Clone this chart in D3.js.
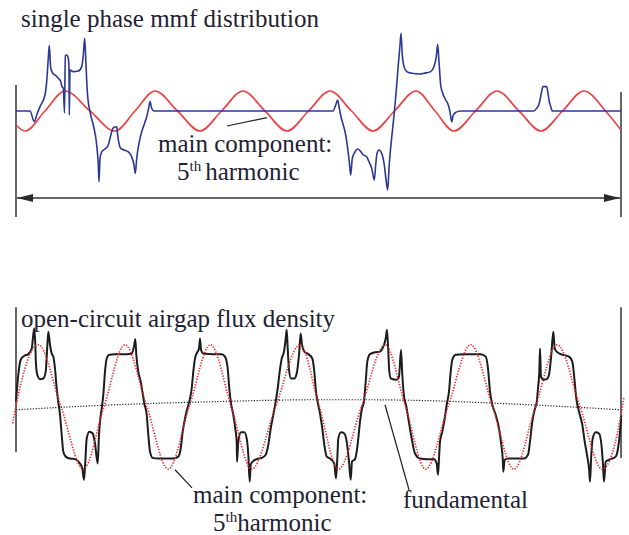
<!DOCTYPE html>
<html>
<head>
<meta charset="utf-8">
<script src="https://cdn.jsdelivr.net/npm/d3@7"></script>
<style>
  html, body { margin: 0; padding: 0; background: #fff; }
  svg { display: block; }
</style>
</head>
<body>
<svg id="chart" width="629" height="535"></svg>
<script>
// Position along the airgap circumference (mm), 0 .. 121
const spanMM = [0, 121];

// ---- Upper plot: single phase mmf (per unit) ----
const mmfX = [0, 2.8, 3.66, 4.14, 4.8, 5.8, 6.14, 6.46, 6.66, 6.94, 7.34, 7.8, 8.46, 8.94, 9.2, 9.46, 9.7, 9.86, 10.14, 10.46, 10.6, 10.66, 10.8, 11.46, 12.46, 13.14, 13.46, 13.74, 14.0, 14.26, 14.8, 15.46, 16.14, 16.46, 16.6, 16.8, 17.14, 17.8, 18.46, 18.8, 19.14, 19.46, 20.14, 20.26, 20.54, 20.94, 21.6, 22.46, 23.14, 23.6, 23.86, 24.14, 24.66, 25.14, 25.6, 26.14, 26.54, 26.8, 27.14, 27.6,
  63.4, 63.94, 64.34, 64.6, 65.0, 65.46, 65.94, 66.34, 66.66, 66.94, 67.26, 67.8, 68.34, 68.86, 69.46, 70.14, 70.6, 71.14, 71.66, 71.94, 72.2, 72.6, 73.14, 73.66, 74.06, 74.34, 74.6, 74.86, 75.26, 75.54, 75.8, 76.14, 76.46, 76.8, 77.0, 77.26, 77.6, 78.14, 79.14, 80.8, 81.6, 82.94, 83.6, 84.06, 84.34, 84.6, 84.94, 85.34, 85.94, 86.46, 86.8, 87.14, 87.46, 87.94, 88.94,
  103.6, 104.14, 104.54, 104.8, 105.06, 105.4, 106.14, 106.4, 106.6, 106.94, 107.26, 121];
const mmfY = [0, 0, -0.54, -0.2, 0.22, 0.8, 1.47, 2.65, 3.27, 2.15, 1.9, 1.8, 1.64, 1.47, 1.22, 1.14, -0.1, 2.77, 2.8, 2.64, 2.14, -0.2, 2.05, 1.97, 2.0, 2.22, 2.8, 3.64, 2.3, 0.97, -0.04, -0.7, -1.7, -2.7, -3.54, -2.37, -2.04, -1.9, -1.7, -1.37, -1.04, -0.84, -0.79, -1.04, -1.54, -1.87, -1.95, -2.04, -2.29, -2.7, -3.12, -2.37, -1.54, -1.04, -0.7, -0.29, 0.14, 0.47, 0.14, 0,
  0, 0.3, 0.55, 0.22, -0.29, -0.7, -1.2, -1.87, -2.54, -3.2, -2.37, -2.04, -1.9, -2.0, -2.2, -2.29, -2.54, -2.87, -3.45, -2.7, -2.12, -1.95, -2.12, -2.7, -3.54, -3.95, -2.87, -2.04, -1.04, -0.37, 0.3, 1.3, 2.3, 3.3, 3.89, 2.8, 2.22, 1.97, 1.89, 1.85, 1.89, 1.97, 2.22, 2.72, 3.34, 2.47, 1.3, 0.89, 0.55, 0.3, -0.04, -0.54, -0.2, -0.07, 0,
  0, 0.14, 0.3, 0.55, 0.89, 1.22, 1.22, 0.89, 0.55, 0.22, 0, 0];

// main component of the mmf (5th harmonic): extremes and zero crossings
const mmf5X = [0, 1.8, 5.8, 9.8, 14.8, 19.8, 23.8, 27.8, 32.3, 36.8, 41.1, 45.4, 49.8, 54.2, 58.5, 62.8, 67.1, 71.4, 75.7, 80.0, 83.8, 87.6, 91.9, 96.2, 100.6, 105.0, 109.3, 113.6, 117.9, 121];
const mmf5Y = [-0.7, -1, 0, 1, 0, -1, 0, 1, 0, -1, 0, 1, 0, -1, 0, 1, 0, -1, 0, 1, 0, -1, 0, 1, 0, -1, 0, 1, 0, -0.95];

// ---- Lower plot: open-circuit airgap flux density (T) ----
const fluxX = [0, 0.46, 0.94, 1.6, 2.46, 3.14, 3.46, 3.66, 3.86, 4.0, 4.26, 4.8, 5.46, 5.94, 6.2, 6.46, 6.8, 7.14, 7.46, 7.8, 8.14, 8.46, 8.8, 9.14, 9.46, 9.94, 10.8, 11.8, 12.8, 13.26, 13.6, 13.86, 14.14, 14.66, 15.34, 15.8, 16.34, 16.6, 16.8, 17.14, 17.46, 17.8, 18.14, 18.66, 19.8,
  22.14, 23.14, 23.66, 23.86, 24.06, 24.46, 24.94, 25.34, 25.66, 26.14, 26.46, 26.8, 27.34, 28.46, 31.46, 32.46, 32.94, 33.34, 33.8, 34.26, 34.66, 35.14, 35.46, 35.8, 36.26, 36.6, 36.8, 37.0, 37.46, 39.46,
  41.14, 41.8, 42.34, 42.66, 43.0, 43.46, 43.94, 44.14, 44.2, 44.46, 45.0, 45.66, 46.14, 46.46, 46.74, 46.94, 47.34, 48.14, 49.14, 49.94, 50.46, 50.94, 51.46, 51.94, 52.34, 52.74, 53.14, 53.6, 53.94, 54.14, 54.34, 54.6, 55.0, 55.66, 56.14, 56.6, 56.94, 57.2, 57.66, 58.46,
  59.26, 59.66, 60.0, 60.34, 60.8, 61.26, 61.66, 62.14, 62.8, 63.66, 64.0, 64.26, 64.46, 65.0, 65.66, 66.14, 66.6, 66.94, 67.2, 67.8, 68.14, 68.46, 68.8, 69.14, 69.6, 69.94, 70.26, 70.8, 71.8, 72.8, 73.46, 73.94, 74.2, 74.46, 74.66, 75.0, 76.14, 76.6, 77.0, 77.26, 77.66, 78.0, 78.46, 79.14, 79.8, 80.8,
  82.26, 83.6, 84.14, 84.4, 84.6, 84.8, 85.26, 85.74, 86.14, 86.6, 86.94, 87.26, 87.94, 89.6, 92.94, 93.94, 94.4, 94.8, 95.26, 95.94, 96.6, 97.06, 97.34, 97.46, 97.74, 98.6, 101.6, 102.4, 102.8, 103.26, 103.74, 104.14, 104.4, 104.66, 104.8, 105.0, 105.46, 106.14, 106.6, 107.06, 107.46, 107.74, 108.14, 108.94,
  110.6, 111.26, 111.6, 112.06, 112.6, 113.26, 113.74, 114.26, 114.6, 114.8, 115.06, 115.34, 115.94, 116.6, 117.06, 117.4, 117.6, 117.94, 118.94, 119.94, 120.4, 120.8, 121.06];
const fluxY = [0.07, 0.5, 0.74, 0.8, 0.83, 0.92, 1.14, 1.24, 0.98, 0.66, 0.5, 0.43, 0.44, 0.55, 0.87, 1.19, 0.98, 0.84, 0.79, 0.6, 0.28, 0.06, -0.14, -0.46, -0.73, -0.81, -0.84, -0.85, -0.92, -1.0, -1.18, -0.89, -0.52, -0.41, -0.44, -0.6, -0.92, -0.46, -0.25, -0.04, 0.18, 0.55, 0.76, 0.82, 0.83,
  0.83, 0.84, 0.98, 1.07, 0.82, 0.55, 0.39, 0.2, 0.04, -0.14, -0.46, -0.73, -0.83, -0.84, -0.84, -0.81, -0.68, -0.41, -0.2, -0.04, 0.07, 0.28, 0.55, 0.76, 0.86, 0.92, 1.08, 0.9, 0.84, 0.83,
  0.83, 0.79, 0.6, 0.28, 0.04, -0.14, -0.41, -0.57, -0.89, -0.57, -0.42, -0.42, -0.52, -0.78, -1.21, -0.94, -0.89, -0.85, -0.83, -0.78, -0.62, -0.36, -0.14, 0.07, 0.28, 0.55, 0.76, 0.87, 1.08, 1.22, 0.92, 0.58, 0.44, 0.44, 0.52, 0.82, 1.16, 0.98, 0.87, 0.83,
  0.76, 0.55, 0.23, 0.06, -0.12, -0.36, -0.62, -0.81, -0.84, -0.92, -1.16, -0.84, -0.52, -0.42, -0.44, -0.57, -0.89, -1.18, -0.89, -0.85, -0.73, -0.52, -0.25, -0.06, 0.08, 0.39, 0.71, 0.83, 0.86, 0.87, 0.95, 1.08, 1.22, 0.87, 0.55, 0.44, 0.42, 0.47, 0.9, 0.5, 0.12, 0.02, -0.2, -0.52, -0.76, -0.84,
  -0.85, -0.85, -0.92, -1.1, -0.84, -0.57, -0.41, -0.2, 0.02, 0.23, 0.55, 0.74, 0.82, 0.83, 0.83, 0.79, 0.6, 0.23, 0.02, -0.14, -0.36, -0.62, -0.84, -1.05, -0.86, -0.84, -0.84, -0.78, -0.57, -0.25, -0.06, 0.06, 0.28, 0.55, 0.92, 0.47, 0.42, 0.43, 0.5, 0.82, 1.19, 0.92, 0.87, 0.83,
  0.79, 0.71, 0.5, 0.12, -0.09, -0.3, -0.57, -0.81, -1.0, -1.21, -0.78, -0.52, -0.42, -0.44, -0.6, -0.94, -1.21, -0.89, -0.85, -0.81, -0.68, -0.41, -0.14];

// main component of the flux density (5th harmonic)
const flux5X = [-0.66, 0, 4.46, 8.96, 13.46, 17.63, 21.8, 26.13, 30.46, 34.68, 38.9, 43.02, 47.14, 51.97, 56.8, 60.63, 64.46, 69.13, 73.8, 77.87, 81.94, 86.44, 90.94, 95.27, 99.6, 103.93, 108.26, 112.76, 117.26, 121.3, 121.6];
const flux5Y = [-0.28, 0, 0.98, 0, -1.01, 0, 0.98, 0, -1.01, 0, 0.98, 0, -1.01, 0, 0.98, 0, -1.01, 0, 0.98, 0, -1.01, 0, 0.98, 0, -1.01, 0, 0.98, 0, -1.01, 0, 0.15];

// fundamental of the flux density
const flux1X = [0, 20, 40, 60, 70, 80, 100, 121];
const flux1Y = [-0.06, 0.02, 0.07, 0.1, 0.1, 0.09, 0.03, -0.06];

const serif = "'Liberation Serif', 'Times New Roman', Times, 'DejaVu Serif', serif";
const ink = "#1f2233";

const svg = d3.select("#chart");
const zip = (xs, ys) => xs.map((x, i) => [x, ys[i]]);

// shared horizontal scale for both plots
const x = d3.scaleLinear().domain(spanMM).range([16, 621]);
const yTop = d3.scaleLinear().domain([-4, 4]).range([191, 31]);
const yBot = d3.scaleLinear().domain([-1.5, 1.5]).range([499.75, 312.25]);

const lineTop = d3.line().x(d => x(d[0])).y(d => yTop(d[1])).curve(d3.curveMonotoneX);
const lineBot = d3.line().x(d => x(d[0])).y(d => yBot(d[1])).curve(d3.curveMonotoneX);

function label(g, px, py, str) {
  return g.append("text").attr("x", px).attr("y", py)
    .attr("font-family", serif).attr("font-size", 25).attr("fill", ink)
    .text(str);
}
function harmonicLabel(g, px, py, gap) {
  const t = g.append("text").attr("x", px).attr("y", py)
    .attr("font-family", serif).attr("font-size", 25).attr("fill", ink);
  t.append("tspan").text("5");
  t.append("tspan").attr("font-size", 15).attr("dy", -9).text("th");
  t.append("tspan").attr("dy", 9).attr("dx", gap).text("harmonic");
  return t;
}

// arrowhead for the span marker
const defs = svg.append("defs");
defs.append("marker")
  .attr("id", "head")
  .attr("viewBox", "0 0 16 8")
  .attr("refX", 16).attr("refY", 4)
  .attr("markerWidth", 16).attr("markerHeight", 8)
  .attr("markerUnits", "userSpaceOnUse")
  .attr("orient", "auto-start-reverse")
  .append("path").attr("d", "M0,0 L16,4 L0,8 Z").attr("fill", "#2a2a2a");

const frame = "#333";

// ---------- upper plot ----------
const gt = svg.append("g");
gt.append("line")
  .attr("x1", x(0)).attr("x2", x(0))
  .attr("y1", yTop(1.3)).attr("y2", yTop(-5.3))
  .attr("stroke", frame).attr("stroke-width", 1.5);
gt.append("line")
  .attr("x1", x(121)).attr("x2", x(121))
  .attr("y1", yTop(0.95)).attr("y2", yTop(-5.3))
  .attr("stroke", frame).attr("stroke-width", 1.5);
gt.append("line")
  .attr("x1", x(0.2)).attr("x2", x(120.8))
  .attr("y1", yTop(-4.35)).attr("y2", yTop(-4.35))
  .attr("stroke", frame).attr("stroke-width", 1.3)
  .attr("marker-start", "url(#head)").attr("marker-end", "url(#head)");

gt.append("path")
  .attr("d", lineTop(zip(mmf5X, mmf5Y)))
  .attr("fill", "none").attr("stroke", "#e8464b").attr("stroke-width", 1.7);
gt.append("path")
  .attr("d", lineTop(zip(mmfX, mmfY)))
  .attr("fill", "none").attr("stroke", "#2c3894").attr("stroke-width", 1.6)
  .attr("stroke-linejoin", "round");

// leader for the main component
gt.append("line")
  .attr("x1", x(42.2)).attr("y1", yTop(-0.75))
  .attr("x2", x(50.2)).attr("y2", yTop(-0.33))
  .attr("stroke", "#222").attr("stroke-width", 1.2);

label(gt, 21, 26.5, "single phase mmf distribution");
label(gt, 158, 152, "main component:");
harmonicLabel(gt, 177, 180, 4);

// ---------- lower plot ----------
const gb = svg.append("g");
gb.append("line")
  .attr("x1", x(0)).attr("x2", x(0))
  .attr("y1", yBot(1.58)).attr("y2", yBot(-0.74))
  .attr("stroke", frame).attr("stroke-width", 1.5);
gb.append("line")
  .attr("x1", x(121)).attr("x2", x(121))
  .attr("y1", yBot(1.58)).attr("y2", yBot(-0.83))
  .attr("stroke", frame).attr("stroke-width", 1.5);

gb.append("path")
  .attr("d", lineBot(zip(flux1X, flux1Y)))
  .attr("fill", "none").attr("stroke", "#222").attr("stroke-width", 1.2)
  .attr("stroke-dasharray", "1.2,1.6");
gb.append("path")
  .attr("d", lineBot(zip(fluxX, fluxY)))
  .attr("fill", "none").attr("stroke", "#1c1c1c").attr("stroke-width", 2)
  .attr("stroke-linejoin", "round");
gb.append("path")
  .attr("d", lineBot(zip(flux5X, flux5Y)))
  .attr("fill", "none").attr("stroke", "#e5302f").attr("stroke-width", 1.7)
  .attr("stroke-dasharray", "1.3,1.5");

// leaders
gb.append("line")
  .attr("x1", x(31.8)).attr("y1", yBot(-1.02))
  .attr("x2", x(35.2)).attr("y2", yBot(-1.31))
  .attr("stroke", "#222").attr("stroke-width", 1.2);
gb.append("line")
  .attr("x1", x(73.8)).attr("y1", yBot(0.02))
  .attr("x2", x(78.6)).attr("y2", yBot(-1.34))
  .attr("stroke", "#222").attr("stroke-width", 1.2);

label(gb, 21, 327, "open-circuit airgap flux density");
label(gb, 193, 503, "main component:");
harmonicLabel(gb, 213, 531, 0);
label(gb, 403, 508, "fundamental");
</script>
</body>
</html>
